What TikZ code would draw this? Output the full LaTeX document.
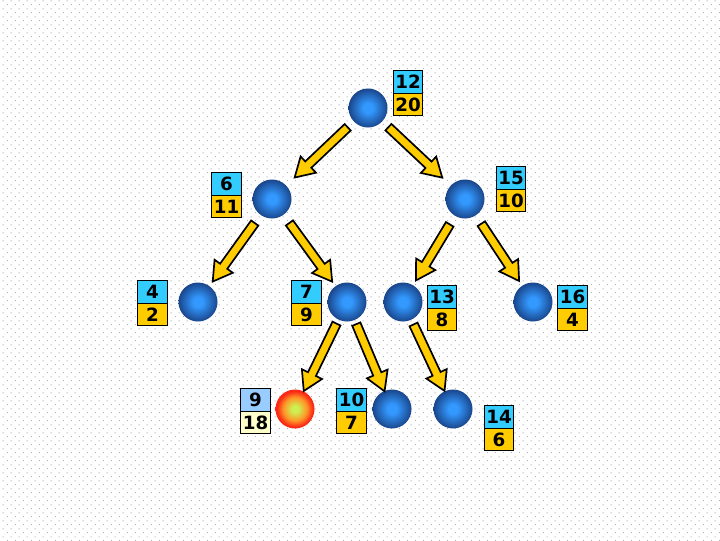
\documentclass[tikz,border=0pt]{standalone}
\usepackage{fontspec}
\usepackage{tikz}
\usetikzlibrary{positioning, calc, patterns.meta}
\newfontfamily\cellfont{DejaVu Sans}
\definecolor{cellcyan}{RGB}{51,204,255}
\definecolor{cellamber}{RGB}{255,204,0}
\definecolor{celllblue}{RGB}{153,204,255}
\definecolor{cellcream}{RGB}{255,255,204}
\definecolor{arrowyellow}{RGB}{255,204,0}
\definecolor{balllight}{RGB}{51,153,255}
\definecolor{balldark}{RGB}{26,70,140}
\definecolor{hotcore}{RGB}{205,240,80}
\definecolor{hotmid}{RGB}{255,150,40}
\definecolor{hotedge}{RGB}{250,40,20}
\definecolor{dotgray}{RGB}{175,175,175}
\pgfdeclareradialshading{blueball}{\pgfpoint{0bp}{0bp}}{color(0bp)=(balllight); color(6bp)=(balllight); color(25bp)=(balldark); color(50bp)=(balldark)}
\pgfdeclareradialshading{redball}{\pgfpoint{0bp}{0bp}}{color(0bp)=(hotcore); color(4bp)=(hotcore); color(15bp)=(hotmid); color(23bp)=(hotedge); color(50bp)=(hotedge)}
\tikzdeclarepattern{
  name=bgdots,
  type=colored,
  bottom left={(0pt,0pt)},
  top right={(5.69pt,5.69pt)},
  tile size={(5.69pt,5.69pt)},
  code={
    \fill[dotgray] (0pt,0pt) rectangle (0.75pt,0.75pt);
    \fill[dotgray] (2.845pt,2.845pt) rectangle (3.6pt,3.6pt);
  }
}
\tikzset{
  ball/.style={circle, minimum size=0.975cm, inner sep=0pt, shading=blueball},
  hotball/.style={ball, shading=redball},
  cell/.style={rectangle, draw=black, line width=0.8pt, minimum width=0.74cm,
    minimum height=0.5625cm, inner sep=0pt, outer sep=0pt,
    font=\cellfont\fontsize{13}{14}\selectfont\bfseries},
  keycell/.style={cell, fill=cellcyan},
  valcell/.style={cell, fill=cellamber},
  arrowbody/.style={fill=arrowyellow, draw=black, line width=1.2pt, line join=miter}
}
% block arrow: from, to, gap at tail, gap at tip
\newcommand{\treearrow}[4]{%
  \coordinate (ta) at ($(#1)!#3!(#2)$);
  \coordinate (tb) at ($(#2)!#4!(#1)$);
  \coordinate (th) at ($(tb)!0.47cm!(ta)$);
  \filldraw[arrowbody] ($(ta)!0.11cm!90:(tb)$) -- ($(th)!0.11cm!90:(tb)$)
    -- ($(th)!0.28cm!90:(tb)$) -- (tb) -- ($(th)!0.28cm!-90:(tb)$)
    -- ($(th)!0.11cm!-90:(tb)$) -- ($(ta)!0.11cm!-90:(tb)$) -- cycle;
}

\begin{document}
\begin{tikzpicture}[x=0.025cm, y=-0.025cm]
  % ── background ──
  \fill[white] (0,0) rectangle (720,540);
  \fill[pattern=bgdots] (0,0) rectangle (720,540);
  \useasboundingbox (0,0) rectangle (720,540);
  % ── tree nodes ──
  \node[ball] (n12) at (368,108) {};
  \node[ball] (n6) at (272,199) {};
  \node[ball] (n15) at (465,199) {};
  \node[ball] (n4) at (198,302) {};
  \node[ball] (n7) at (347,302) {};
  \node[ball] (n13) at (403,302) {};
  \node[ball] (n16) at (533,302) {};
  \node[hotball] (n9) at (295,409) {};
  \node[ball] (n10) at (392,409) {};
  \node[ball] (n14) at (453,409) {};
  % ── key / count boxes ──
  \foreach \k/\v/\x/\y in {12/20/408/82, 6/11/226.5/184, 15/10/511/178,
      4/2/152.5/292, 7/9/306.5/292, 13/8/442/297, 16/4/572.5/297,
      10/7/351.5/400, 14/6/499/417}{
    \node[keycell] (k\k) at (\x,\y) {\k};
    \node[valcell, below=0pt of k\k] (v\k) {\v};
  }
  % the hot node
  \node[keycell, fill=celllblue] (k9) at (255.5,400) {9};
  \node[valcell, fill=cellcream, below=0pt of k9] (v9) {18};
  % ── arrows ──
  \treearrow{n12}{n6}{0.7cm}{0.78cm}
  \treearrow{n12}{n15}{0.7cm}{0.78cm}
  \treearrow{n6}{n4}{0.74cm}{0.63cm}
  \treearrow{n6}{n7}{0.74cm}{0.63cm}
  \treearrow{n15}{n13}{0.74cm}{0.63cm}
  \treearrow{n15}{n16}{0.74cm}{0.63cm}
  \treearrow{n7}{n9}{0.6cm}{0.5cm}
  \treearrow{n7}{n10}{0.6cm}{0.48cm}
  \treearrow{n13}{n14}{0.62cm}{0.5cm}
\end{tikzpicture}
\end{document}
